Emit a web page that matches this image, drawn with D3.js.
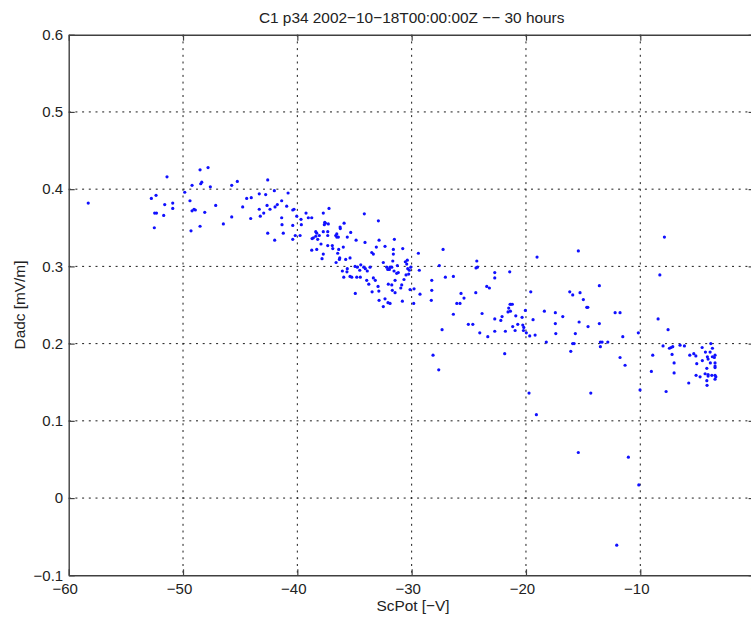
<!DOCTYPE html>
<html>
<head>
<meta charset="utf-8">
<script src="https://cdn.jsdelivr.net/npm/d3@7"></script>
<style>
  html, body { margin: 0; padding: 0; background: #fff; }
  svg { display: block; }
  text { font-family: "Liberation Sans", Arial, Helvetica, sans-serif; fill: #222; }
</style>
</head>
<body>
<svg id="chart" width="751" height="617"></svg>
<script>
const titleText = "C1 p34 2002\u221210\u221218T00:00:00Z \u2212\u2212 30 hours";
const xLabelText = "ScPot [\u2212V]";
const yLabelText = "Dadc [mV/m]";

const xTicks = [-60, -50, -40, -30, -20, -10, 0];
const xTickLabels = ["\u221260", "\u221250", "\u221240", "\u221230", "\u221220", "\u221210", "0"];
const yTicks = [-0.1, 0, 0.1, 0.2, 0.3, 0.4, 0.5, 0.6];
const yTickLabels = ["\u22120.1", "0", "0.1", "0.2", "0.3", "0.4", "0.5", "0.6"];

const scpot = [
  -58.29, -51.40, -52.77, -52.36, -51.60, -50.90, -52.48, -52.32, -50.90, -51.69,
  -52.51, -49.85, -49.21, -48.51, -47.81, -48.36, -48.45, -47.61, -49.39, -49.21,
  -49.04, -48.92, -48.10, -47.14, -49.30, -48.51, -46.47, -45.74, -45.74, -45.25,
  -44.78, -44.43, -44.03, -44.08, -43.33, -42.77, -42.59, -43.33, -42.65, -42.39,
  -42.94, -43.24, -42.01, -41.95, -41.75, -42.59, -41.98, -40.81, -41.37, -40.93,
  -40.40, -40.29, -41.37, -41.34, -40.05, -40.40, -41.23, -40.18, -39.76, -40.40,
  -39.68, -39.65, -39.24, -39.04, -38.74, -37.73, -37.23, -37.60, -37.55, -37.64,
  -37.29, -38.39, -38.30, -38.08, -38.39, -37.73, -37.34, -37.34, -38.71, -38.60,
  -38.22, -37.93, -38.74, -38.30, -37.73, -37.84, -37.34, -36.94, -36.90, -36.64,
  -36.55, -36.41, -36.55, -36.26, -36.24, -35.91, -36.38, -36.47, -35.98, -35.63,
  -35.33, -34.86, -36.29, -36.61, -36.32, -35.77, -35.39, -36.06, -35.63, -35.94,
  -35.39, -35.24, -34.80, -34.49, -35.66, -34.95, -34.75, -34.54, -34.45, -34.14,
  -32.91, -34.08, -33.49, -33.35, -32.85, -33.09, -32.33, -31.51, -31.60, -31.60,
  -30.78, -34.19, -33.88, -34.05, -33.64, -33.93, -33.75, -33.35, -33.18, -32.94,
  -33.46, -32.87, -34.93, -32.48, -32.18, -32.09, -31.89, -31.95, -31.74, -31.65,
  -31.25, -31.54, -31.31, -31.17, -31.45, -32.04, -31.74, -31.69, -31.45, -32.85,
  -32.33, -32.48, -32.07, -31.89, -30.81, -30.87, -30.95, -30.67, -30.55, -30.43,
  -30.34, -30.20, -30.08, -30.26, -30.49, -30.38, -30.14, -29.79, -29.82, -29.41,
  -29.33, -29.27, -28.24, -28.24, -28.28, -27.25, -27.05, -26.35, -26.35, -26.05,
  -25.77, -27.58, -27.34, -28.13, -27.63, -25.68, -25.42, -24.30, -24.37, -24.25,
  -24.39, -25.04, -24.65, -23.84, -24.04, -23.34, -23.43, -23.20, -22.73, -22.73,
  -22.73, -22.73, -22.20, -22.09, -21.80, -21.86, -21.42, -21.51, -21.39, -21.36,
  -21.32, -21.19, -21.57, -20.89, -21.16, -20.95, -20.72, -20.34, -20.28, -20.19,
  -20.22, -20.05, -19.97, -19.67, -19.20, -19.58, -19.38, -19.03, -18.39, -18.22,
  -17.43, -17.43, -17.39, -16.78, -16.17, -15.91, -15.27, -14.98, -15.42, -14.68,
  -14.59, -15.35, -14.57, -15.68, -15.91, -15.79, -16.08, -13.58, -13.58, -13.49,
  -13.34, -13.49, -12.84, -12.20, -11.77, -11.77, -11.53, -11.33, -14.33, -10.17,
  -10.02, -7.89, -8.29, -8.44, -7.57, -8.01, -8.91, -9.03, -7.74, -7.45,
  -7.31, -7.16, -6.52, -6.14, -7.22, -7.04, -7.04, -5.76, -5.67, -5.32,
  -5.14, -5.06, -5.12, -4.77, -4.59, -4.30, -3.83, -3.69, -3.89, -4.57,
  -4.13, -4.07, -4.18, -4.33, -4.07, -4.07, -3.87, -3.69, -3.52, -3.46,
  -3.46, -3.46, -3.46, -3.74, -3.46, -3.39, -3.46, -4.18, -4.16, -19.73,
  -19.09, -15.42, -11.04, -10.13, -12.06
];

const dadc = [
  0.382, 0.416, 0.388, 0.392, 0.380, 0.382, 0.369, 0.369, 0.375, 0.366,
  0.350, 0.396, 0.405, 0.425, 0.428, 0.409, 0.407, 0.403, 0.385, 0.372,
  0.374, 0.373, 0.370, 0.379, 0.346, 0.352, 0.355, 0.364, 0.405, 0.410,
  0.377, 0.388, 0.389, 0.362, 0.394, 0.393, 0.412, 0.374, 0.379, 0.374,
  0.369, 0.365, 0.398, 0.377, 0.380, 0.343, 0.334, 0.395, 0.385, 0.378,
  0.373, 0.374, 0.363, 0.354, 0.365, 0.353, 0.343, 0.340, 0.340, 0.335,
  0.361, 0.354, 0.369, 0.363, 0.363, 0.369, 0.375, 0.357, 0.356, 0.354,
  0.355, 0.345, 0.343, 0.340, 0.339, 0.345, 0.345, 0.340, 0.336, 0.337,
  0.335, 0.329, 0.321, 0.322, 0.316, 0.310, 0.327, 0.327, 0.323, 0.340,
  0.338, 0.338, 0.342, 0.351, 0.349, 0.356, 0.322, 0.317, 0.325, 0.338,
  0.344, 0.334, 0.311, 0.305, 0.309, 0.309, 0.311, 0.294, 0.297, 0.286,
  0.287, 0.286, 0.286, 0.286, 0.293, 0.300, 0.299, 0.295, 0.302, 0.368,
  0.359, 0.331, 0.318, 0.316, 0.334, 0.325, 0.326, 0.335, 0.322, 0.316,
  0.323, 0.299, 0.294, 0.297, 0.299, 0.282, 0.277, 0.285, 0.282, 0.274,
  0.267, 0.268, 0.265, 0.305, 0.299, 0.296, 0.299, 0.296, 0.299, 0.307,
  0.301, 0.294, 0.291, 0.292, 0.282, 0.277, 0.276, 0.269, 0.266, 0.256,
  0.258, 0.248, 0.253, 0.252, 0.255, 0.276, 0.272, 0.283, 0.306, 0.303,
  0.297, 0.295, 0.299, 0.290, 0.289, 0.308, 0.270, 0.271, 0.252, 0.317,
  0.295, 0.264, 0.282, 0.269, 0.256, 0.322, 0.286, 0.287, 0.238, 0.252,
  0.252, 0.301, 0.218, 0.185, 0.166, 0.265, 0.259, 0.307, 0.298, 0.299,
  0.266, 0.225, 0.225, 0.239, 0.214, 0.209, 0.274, 0.272, 0.292, 0.285,
  0.232, 0.216, 0.230, 0.235, 0.216, 0.187, 0.293, 0.246, 0.251, 0.242,
  0.251, 0.251, 0.241, 0.236, 0.222, 0.217, 0.225, 0.234, 0.224, 0.221,
  0.217, 0.243, 0.214, 0.210, 0.211, 0.267, 0.231, 0.312, 0.242, 0.202,
  0.240, 0.226, 0.213, 0.235, 0.267, 0.263, 0.266, 0.257, 0.320, 0.247,
  0.247, 0.228, 0.222, 0.213, 0.200, 0.200, 0.190, 0.275, 0.226, 0.202,
  0.202, 0.196, 0.202, 0.240, 0.240, 0.182, 0.209, 0.172, 0.136, 0.214,
  0.140, 0.338, 0.289, 0.232, 0.218, 0.197, 0.185, 0.164, 0.138, 0.194,
  0.195, 0.196, 0.198, 0.197, 0.186, 0.175, 0.162, 0.149, 0.185, 0.187,
  0.184, 0.174, 0.159, 0.157, 0.195, 0.189, 0.200, 0.194, 0.189, 0.178,
  0.183, 0.180, 0.168, 0.161, 0.160, 0.158, 0.175, 0.183, 0.182, 0.185,
  0.175, 0.171, 0.169, 0.159, 0.159, 0.157, 0.154, 0.152, 0.146, 0.136,
  0.108, 0.059, 0.053, 0.017, -0.061
];

const svg = d3.select("#chart");
const W = 751, H = 617;
const plot = { left: 68.7, top: 34.7, right: 754.6, bottom: 575.3 };

svg.append("rect").attr("width", W).attr("height", H).attr("fill", "#fff");

const x = d3.scaleLinear().domain([-60, 0]).range([plot.left, plot.right]);
const y = d3.scaleLinear().domain([-0.1, 0.6]).range([plot.bottom, plot.top]);

// grid
const grid = svg.append("g").attr("class", "grid")
  .attr("stroke", "#1a1a1a").attr("stroke-width", 1).attr("stroke-dasharray", "2,4.7");
grid.selectAll("line.gx").data(xTicks.slice(1, -1)).join("line")
  .attr("x1", d => x(d)).attr("x2", d => x(d))
  .attr("y1", plot.top).attr("y2", plot.bottom);
grid.selectAll("line.gy").data(yTicks.slice(1, -1)).join("line")
  .attr("y1", d => y(d)).attr("y2", d => y(d))
  .attr("x1", plot.left).attr("x2", plot.right);

// points
const pts = scpot.map((v, i) => ({ x: v, y: dadc[i] }));
svg.append("g").selectAll("circle").data(pts).join("circle")
  .attr("cx", d => x(d.x)).attr("cy", d => y(d.y))
  .attr("r", 1.6).attr("fill", "#1010ff");

// axes
const axColor = "#404040";
const fontSize = "15px";

const xAxis = svg.append("g").attr("transform", `translate(0,${plot.bottom})`)
  .call(d3.axisBottom(x).tickValues(xTicks).tickFormat((d, i) => xTickLabels[i])
    .tickSizeInner(-6).tickSizeOuter(0).tickPadding(8));
xAxis.selectAll("text").attr("dx", (d, i) => d < 0 ? -4 : 0);

const xTop = svg.append("g").attr("transform", `translate(0,${plot.top})`)
  .call(d3.axisTop(x).tickValues(xTicks).tickFormat("").tickSizeInner(-6).tickSizeOuter(0));

const yAxis = svg.append("g").attr("transform", `translate(${plot.left},0)`)
  .call(d3.axisLeft(y).tickValues(yTicks).tickFormat((d, i) => yTickLabels[i])
    .tickSizeInner(-6).tickSizeOuter(0).tickPadding(5.5));

const yRight = svg.append("g").attr("transform", `translate(${plot.right},0)`)
  .call(d3.axisRight(y).tickValues(yTicks).tickFormat("").tickSizeInner(-6).tickSizeOuter(0));

[xAxis, xTop, yAxis, yRight].forEach(g => {
  g.select(".domain").attr("stroke", axColor).attr("stroke-width", 1.4);
  g.selectAll(".tick line").attr("stroke", axColor).attr("stroke-width", 1.2);
  g.selectAll("text").attr("font-size", fontSize).attr("fill", "#222")
    .attr("font-family", "'Liberation Sans', Arial, Helvetica, sans-serif");
});

// title and labels
svg.append("text").attr("x", (plot.left + plot.right) / 2).attr("y", 23)
  .attr("text-anchor", "middle").attr("font-size", "15.4px").text(titleText);

svg.append("text").attr("x", 413).attr("y", 611)
  .attr("text-anchor", "middle").attr("font-size", "15.4px").text(xLabelText);

svg.append("text")
  .attr("transform", `translate(25,${(plot.top + plot.bottom) / 2}) rotate(-90)`)
  .attr("text-anchor", "middle").attr("font-size", "15.4px").text(yLabelText);
</script>
</body>
</html>
